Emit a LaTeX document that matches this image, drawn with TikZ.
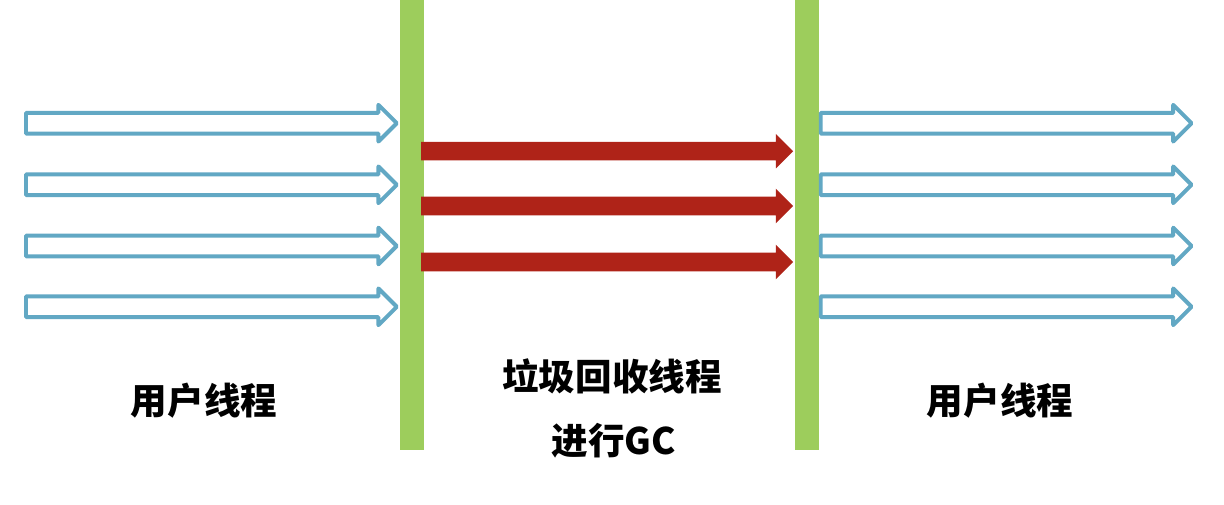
\documentclass[tikz,border=0pt]{standalone}
\usepackage{fontspec}
\newfontfamily\cjk{Noto Sans CJK SC}
\usepackage{tikz}
\usetikzlibrary{shapes.arrows}
\definecolor{threadblue}{HTML}{62A8C4}
\definecolor{gcred}{HTML}{AF2318}
\definecolor{barGreen}{HTML}{9DCD5C}

\begin{document}
\begin{tikzpicture}[
  bar/.style={rectangle, fill=barGreen, inner sep=0pt, minimum width=0.6cm, minimum height=11.25cm, anchor=south},
  uarrow/.style={single arrow, draw=threadblue, fill=white, line width=2.8pt, line join=round, inner xsep=0pt, inner ysep=0.21cm, single arrow head extend=0.2cm, single arrow tip angle=90, minimum height=9.27cm, anchor=tail},
  gcarrow/.style={single arrow, fill=gcred, inner xsep=0pt, inner ysep=0.225cm, single arrow head extend=0.2cm, single arrow tip angle=90, minimum height=9.3cm, anchor=tail},
  lbl/.style={font={\cjk\bfseries\fontsize{26}{30}\selectfont}, inner sep=0pt}
]
\useasboundingbox (0,0) rectangle (30.6,12.6);
% Safepoint bars
\node[bar] (lbar) at (10.3, 1.35) {};
\node[bar] (rbar) at (20.17, 1.35) {};
% User threads before GC
\node[uarrow] (ua1) at (0.6, 9.52) {};
\node[uarrow] (ua2) at (0.6, 7.98) {};
\node[uarrow] (ua3) at (0.6, 6.45) {};
\node[uarrow] (ua4) at (0.6, 4.93) {};
% User threads after GC
\node[uarrow] (ub1) at (20.47, 9.52) {};
\node[uarrow] (ub2) at (20.47, 7.98) {};
\node[uarrow] (ub3) at (20.47, 6.45) {};
\node[uarrow] (ub4) at (20.47, 4.93) {};
% GC threads
\node[gcarrow] (gc1) at (10.52, 8.82) {};
\node[gcarrow] (gc2) at (10.52, 7.45) {};
\node[gcarrow] (gc3) at (10.52, 6.05) {};
% Labels
\node[lbl] (user1) at (5.1, 2.58) {用户线程};
\node[lbl] (gcname) at (15.3, 3.2) {垃圾回收线程};
\node[lbl] (gcrun) at (15.35, 1.58) {进行GC};
\node[lbl] (user2) at (25.0, 2.58) {用户线程};
\end{tikzpicture}
\end{document}
